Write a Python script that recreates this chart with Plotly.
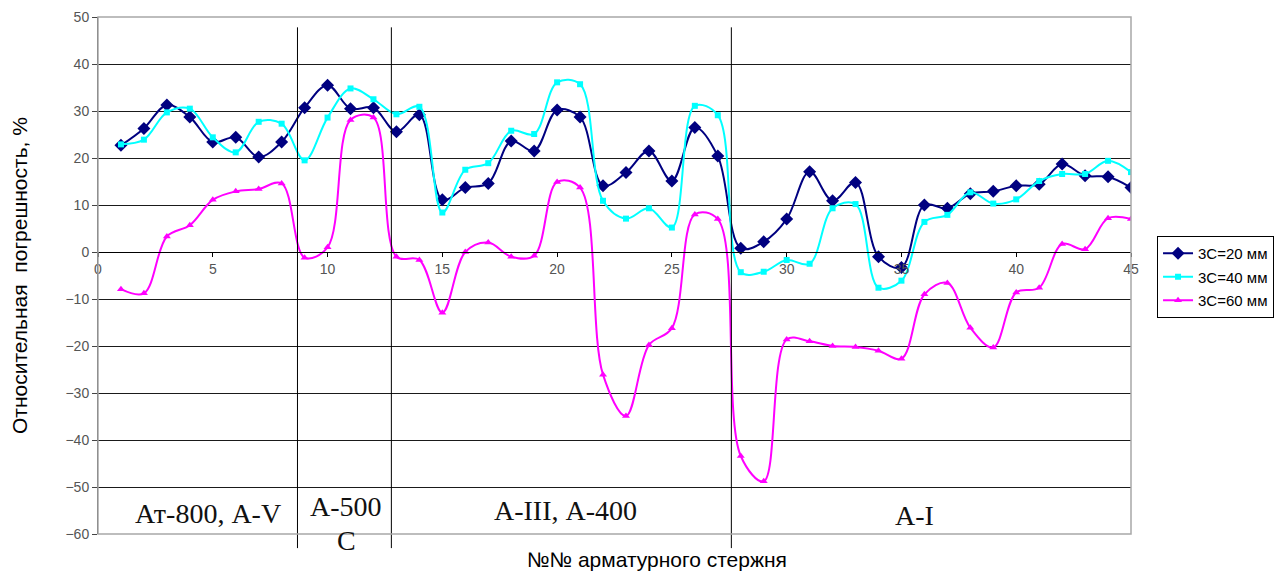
import plotly.graph_objects as go

x_vals = list(range(1, 46))

s20 = [22.7, 26.3, 31.3, 28.7, 23.4, 24.4, 20.2, 23.4, 30.7, 35.5,
       30.5, 30.7, 25.6, 29.2, 11.1, 13.7, 14.6, 23.6, 21.5, 30.2,
       28.7, 14.1, 16.9, 21.5, 15.1, 26.5, 20.4, 0.8, 2.2, 7.0,
       17.1, 10.9, 14.8, -1.0, -3.3, 10.0, 9.3, 12.4, 12.9, 14.1,
       14.4, 18.7, 16.2, 16.0, 13.7]

s40 = [22.9, 23.9, 29.7, 30.5, 24.4, 21.2, 27.7, 27.3, 19.5, 28.6,
       34.8, 32.5, 29.3, 30.9, 8.4, 17.5, 18.9, 25.8, 25.1, 36.1,
       35.7, 10.9, 7.1, 9.3, 5.2, 31.1, 29.1, -4.3, -4.2, -1.7,
       -2.5, 9.3, 10.2, -7.6, -6.1, 6.4, 7.9, 12.7, 10.3, 11.2,
       15.1, 16.6, 16.6, 19.4, 17.0]

s60 = [-7.9, -8.8, 3.3, 5.7, 11.1, 12.9, 13.4, 14.6, -1.2, 1.0,
       28.1, 28.6, -1.0, -1.7, -12.9, 0.0, 2.0, -1.0, -0.8, 14.9,
       13.7, -26.1, -34.9, -19.8, -16.2, 8.0, 7.0, -43.4, -48.8, -18.6,
       -19.0, -20.0, -20.2, -21.0, -22.7, -9.0, -6.6, -16.1, -20.3, -8.6,
       -7.6, 1.7, 0.6, 7.2, 7.0]

series_names = ["3С=20 мм", "3С=40 мм", "3С=60 мм"]
group_bounds = [8.69, 12.78, 27.59]
group_labels = [("Ат-800, А-V", 4.81, -55.6), ("А-500", 10.82, -54.1), ("С", 10.82, -61.3),
                ("А-III, А-400", 20.36, -54.9), ("А-I", 35.56, -56.0)]

X_MIN, X_MAX = 0, 45
Y_MIN, Y_MAX = -60, 50


def ypaper(v):
    return (v - Y_MIN) / (Y_MAX - Y_MIN)


fig = go.Figure()
styles = [
    dict(color="#000080", symbol="diamond", size=10),
    dict(color="#00FFFF", symbol="square", size=6),
    dict(color="#FF00FF", symbol="triangle-up", size=7),
]
for i, (name, ys, st) in enumerate(zip(series_names, [s20, s40, s60], styles)):
    fig.add_trace(go.Scatter(
        x=x_vals, y=ys, name=name, mode="lines+markers",
        line=dict(color=st["color"], width=2, shape="spline", smoothing=1),
        marker=dict(color=st["color"], symbol=st["symbol"], size=st["size"]),
        legendgroup="g%d" % i,
    ))

shapes = []
for b in group_bounds:
    xp = (b - X_MIN) / (X_MAX - X_MIN)
    shapes.append(dict(type="line", xref="paper", yref="paper", x0=xp, x1=xp,
                       y0=ypaper(-63), y1=ypaper(47.8),
                       line=dict(color="black", width=1), layer="above"))
shapes.append(dict(type="rect", xref="paper", yref="paper", x0=0, x1=1, y0=0, y1=1,
                   line=dict(color="#a8a8a8", width=1.5), layer="above"))

annotations = []
for txt, ax_, ay_ in group_labels:
    annotations.append(dict(x=ax_, y=ypaper(ay_), xref="x", yref="paper", text=txt, showarrow=False,
                            xanchor="center", yanchor="middle",
                            font=dict(family="Liberation Serif", size=28, color="#111111")))
annotations.append(dict(x=-0.076, y=0.5, xref="paper", yref="paper", textangle=-90,
                        text="Относительная&nbsp;&nbsp;погрешность, %", showarrow=False,
                        xanchor="center", yanchor="middle",
                        font=dict(family="Arial, Liberation Sans", size=21, color="black")))
annotations.append(dict(x=0.5414, y=-0.050, xref="paper", yref="paper",
                        text="№№ арматурного стержня", showarrow=False,
                        xanchor="center", yanchor="middle",
                        font=dict(family="Arial, Liberation Sans", size=21, color="black")))

# page body has an 8px margin; figure is placed at (8, 8)
fig.update_layout(
    width=1276, height=564,
    margin=dict(l=89.5, r=153, t=9, b=38),
    paper_bgcolor="white", plot_bgcolor="white",
    showlegend=True,
    legend=dict(x=1.0252, y=ypaper(50) - (236 - 17) / 517.0, xanchor="left", yanchor="top",
                bordercolor="black", borderwidth=1, bgcolor="white",
                font=dict(family="Arial, Liberation Sans", size=15, color="black"),
                tracegroupgap=1, traceorder="grouped"),
    xaxis=dict(range=[X_MIN, X_MAX], tickmode="linear", tick0=0, dtick=5,
               anchor="free", position=ypaper(0), automargin=False,
               showline=True, linecolor="black", linewidth=1,
               ticks="outside", ticklen=4, tickcolor="black",
               showgrid=False, zeroline=False,
               tickfont=dict(family="Arial, Liberation Sans", size=14, color="#555555")),
    yaxis=dict(range=[Y_MIN, Y_MAX], tickmode="linear", tick0=-60, dtick=10,
               automargin=False,
               showline=True, linecolor="#444444", linewidth=1,
               ticks="outside", ticklen=5, tickcolor="#444444",
               showgrid=True, gridcolor="#1a1a1a", gridwidth=1, zeroline=False,
               tickfont=dict(family="Arial, Liberation Sans", size=14, color="#555555")),
    shapes=shapes, annotations=annotations,
)

fig.write_html("out.html")
